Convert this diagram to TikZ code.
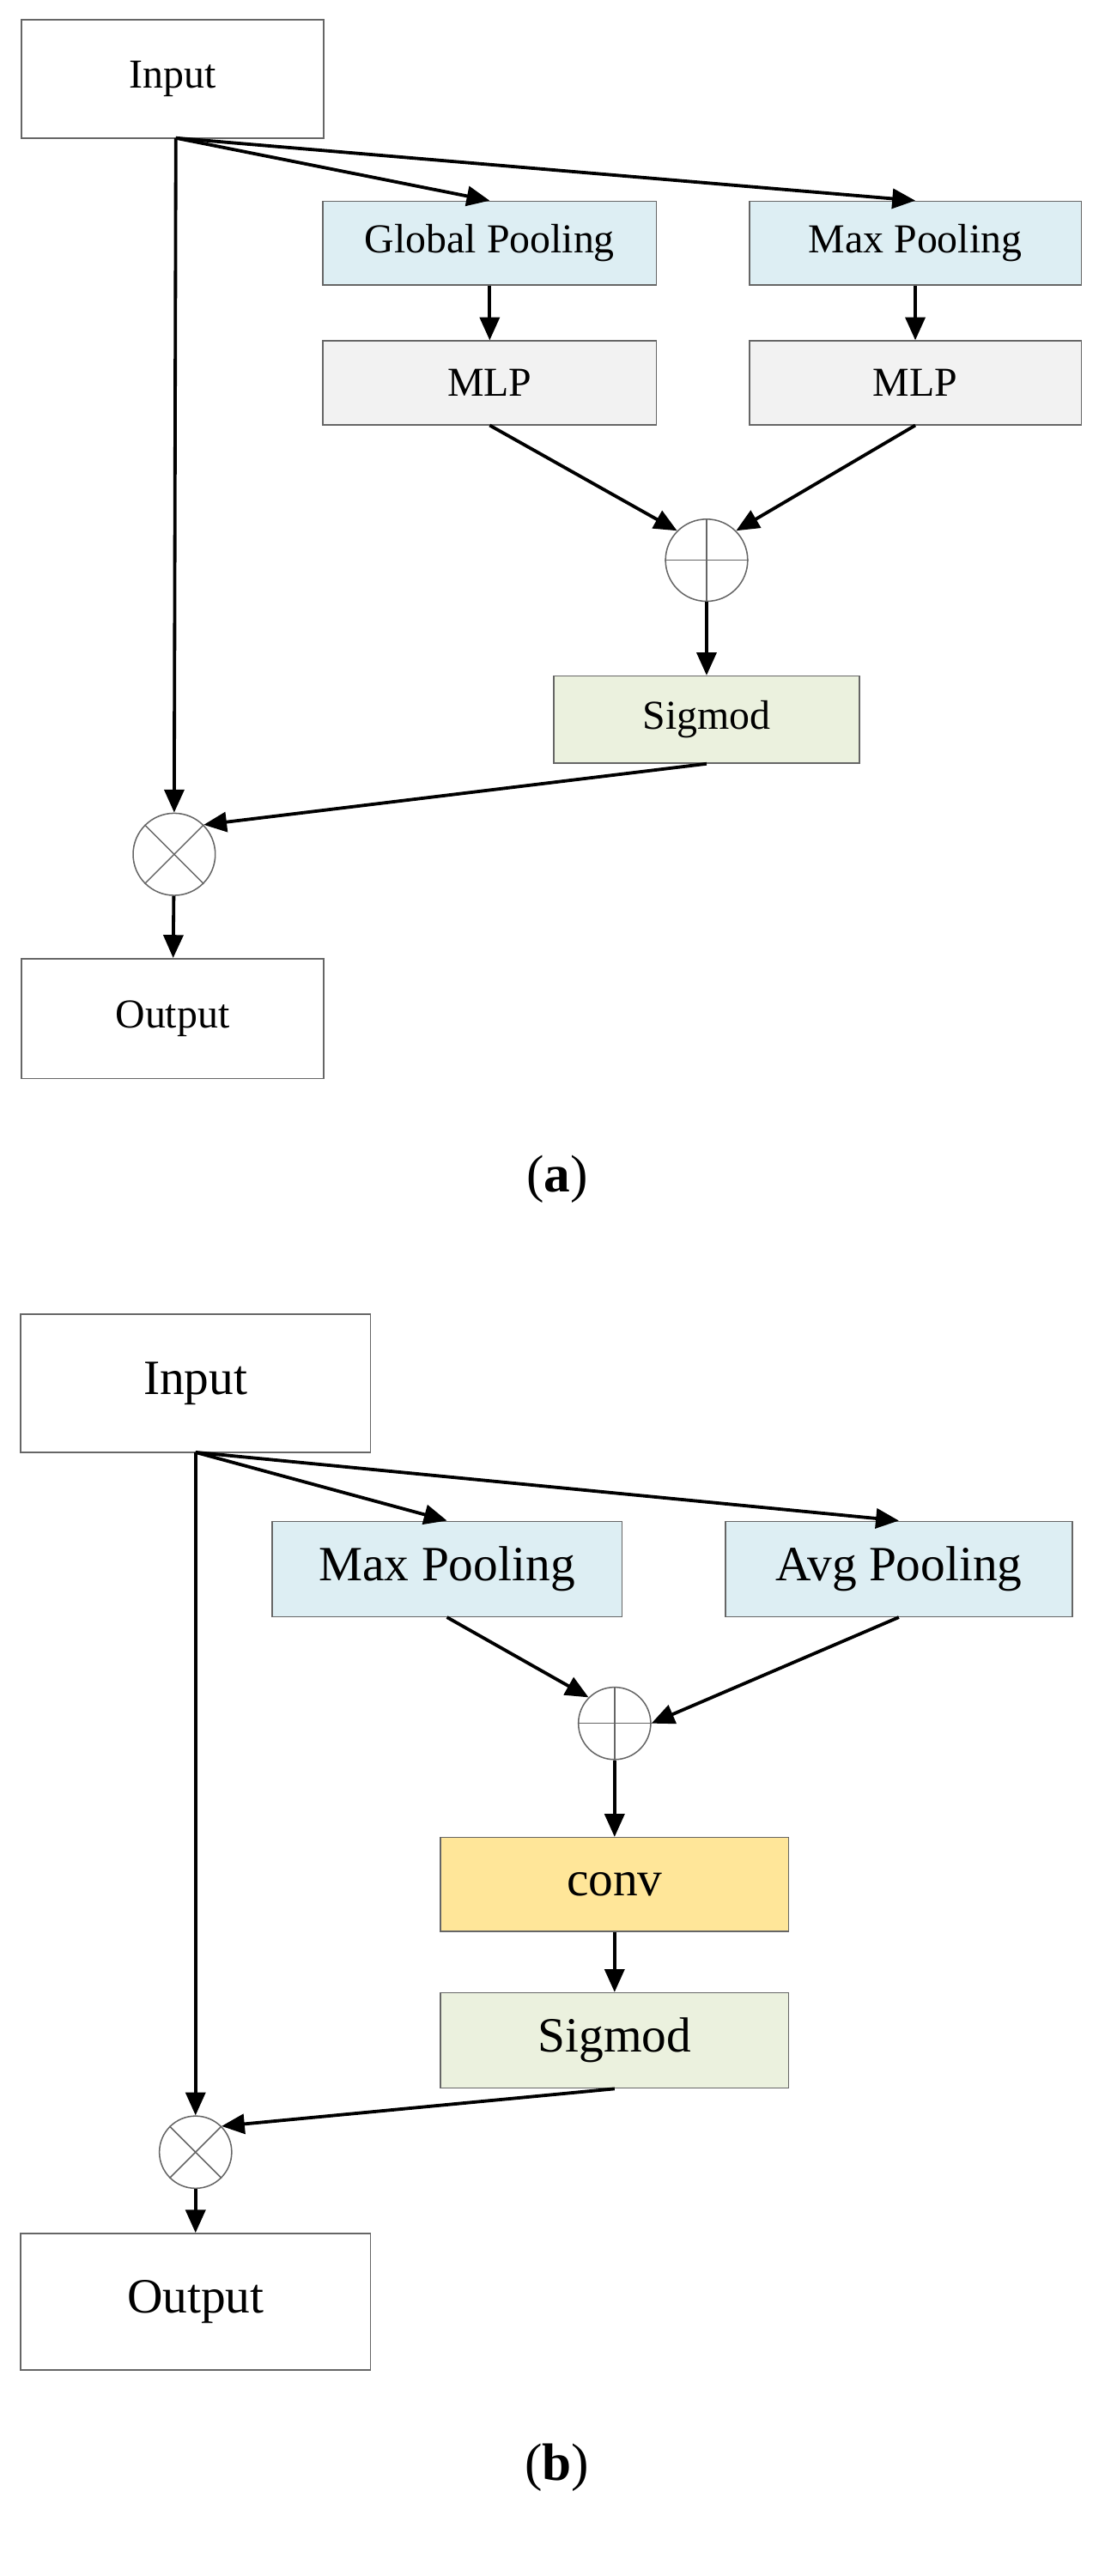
\documentclass[tikz,border=0pt]{standalone}
\usepackage{fontspec}
\setmainfont{Liberation Serif}
\usetikzlibrary{arrows.meta}
\definecolor{cblue}{HTML}{DDEEF3}
\definecolor{cgray}{HTML}{F2F2F2}
\definecolor{cgreen}{HTML}{EBF1DE}
\definecolor{cyel}{HTML}{FFE699}
\begin{document}
\begin{tikzpicture}[x=0.5pt,y=-0.5pt,
  box/.style={draw=black!60,line width=0.4pt,inner sep=0,minimum width=#1},
  arr/.style={-{Triangle[length=7pt,width=6pt]},line width=1pt},
  fa/.style={font=\fontsize{12.5}{14}\selectfont},
  fb/.style={font=\fontsize{15}{17}\selectfont},
  op/.style={draw=black!60,circle,line width=0.4pt,inner sep=0,minimum size=#1}]
\useasboundingbox (0,0) rectangle (676,1568);
% (a)
\node[box=92pt,minimum height=36pt,fa] (in1) at (105,48) {Input};
\coordinate (s1) at (107,84);
\node[box=101.5pt,minimum height=25.5pt,fa,fill=cblue] (gp) at (298,148) {Global Pooling};
\node[box=101pt,minimum height=25.5pt,fa,fill=cblue] (mp) at (557,148) {Max Pooling};
\node[box=101.5pt,minimum height=25.5pt,fa,fill=cgray] (m1) at (298,233) {MLP};
\node[box=101pt,minimum height=25.5pt,fa,fill=cgray] (m2) at (557,233) {MLP};
\node[op=25pt] (pl1) at (430,341) {};
\draw[black!60,line width=0.4pt] (pl1.north)--(pl1.south) (pl1.west)--(pl1.east);
\node[box=93pt,minimum height=26.5pt,fa,fill=cgreen] (sg1) at (430,438) {Sigmod};
\node[op=25pt] (ml1) at (106,520) {};
\draw[black!60,line width=0.4pt] (ml1.north west)--(ml1.south east) (ml1.north east)--(ml1.south west);
\node[box=92pt,minimum height=36.5pt,fa] (out1) at (105,620) {Output};
\node[font=\fontsize{16}{18}\selectfont] (la) at (339,718) {(\textbf{a})};
\draw[arr] (s1)--(gp.north);
\draw[arr] (s1)--(mp.north);
\draw[arr] (s1)--(ml1.north);
\draw[arr] (gp)--(m1);
\draw[arr] (mp)--(m2);
\draw[arr] (m1.south)--(pl1.north west);
\draw[arr] (m2.south)--(pl1.north east);
\draw[arr] (pl1)--(sg1);
\draw[arr] (sg1.south)--(ml1.north east);
\draw[arr] (ml1)--(out1);
% (b)
\node[box=106.5pt,minimum height=42pt,fb] (in2) at (119,842) {Input};
\coordinate (s2) at (119,884);
\node[box=106.5pt,minimum height=29pt,fb,fill=cblue] (mp2) at (272,955) {Max Pooling};
\node[box=105.5pt,minimum height=29pt,fb,fill=cblue] (ap) at (547,955) {Avg Pooling};
\node[op=22pt] (pl2) at (374,1049) {};
\draw[black!60,line width=0.4pt] (pl2.north)--(pl2.south) (pl2.west)--(pl2.east);
\node[box=106pt,minimum height=28.5pt,fb,fill=cyel] (cv) at (374,1147) {conv};
\node[box=106pt,minimum height=29pt,fb,fill=cgreen] (sg2) at (374,1242) {Sigmod};
\node[op=22pt] (ml2) at (119,1310) {};
\draw[black!60,line width=0.4pt] (ml2.north west)--(ml2.south east) (ml2.north east)--(ml2.south west);
\node[box=106.5pt,minimum height=41.5pt,fb] (out2) at (119,1401) {Output};
\node[font=\fontsize{16}{18}\selectfont] (lb) at (339,1502) {(\textbf{b})};
\draw[arr] (s2)--(mp2.north);
\draw[arr] (s2)--(ap.north);
\draw[arr] (s2)--(ml2.north);
\draw[arr] (mp2.south)--(pl2.north west);
\draw[arr] (ap.south)--(pl2.east);
\draw[arr] (pl2)--(cv);
\draw[arr] (cv)--(sg2);
\draw[arr] (sg2.south)--(ml2.north east);
\draw[arr] (ml2)--(out2);
\end{tikzpicture}
\end{document}
